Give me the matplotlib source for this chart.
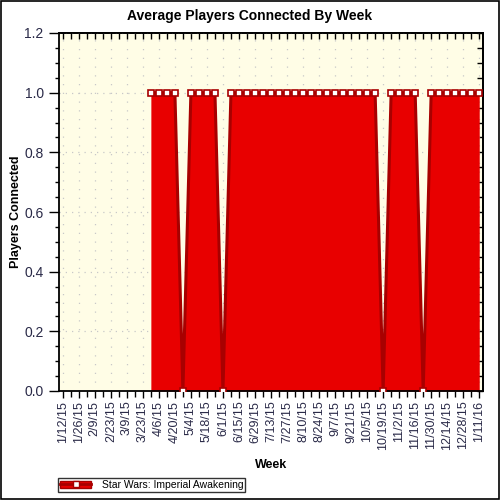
import matplotlib
matplotlib.use("Agg")
import matplotlib.pyplot as plt
import numpy as np
from matplotlib.ticker import MultipleLocator, NullFormatter
from matplotlib.lines import Line2D
from matplotlib.patches import Patch

# Tick labels (every second week)
tick_labels = ["1/12/15", "1/26/15", "2/9/15", "2/23/15", "3/9/15", "3/23/15",
               "4/6/15", "4/20/15", "5/4/15", "5/18/15", "6/1/15", "6/15/15",
               "6/29/15", "7/13/15", "7/27/15", "8/10/15", "8/24/15", "9/7/15",
               "9/21/15", "10/5/15", "10/19/15", "11/2/15", "11/16/15", "11/30/15",
               "12/14/15", "12/28/15", "1/11/16"]

# Weekly data, starting week 3/30/15 (index 11 from 1/12/15)
first_week_index = 11
players = [1, 1, 1, 1, 0,
           1, 1, 1, 1, 0,
           1, 1, 1, 1, 1, 1, 1, 1, 1, 1, 1, 1, 1, 1, 1, 1, 1, 1, 1, 0,
           1, 1, 1, 1, 0,
           1, 1, 1, 1, 1, 1, 1]
series_name = "Star Wars: Imperial Awakening"

x = np.arange(first_week_index, first_week_index + len(players))
y = np.array(players, dtype=float)

fig = plt.figure(figsize=(5, 5), dpi=100)
fig.patch.set_facecolor("white")
ax = fig.add_axes([0.118, 0.218, 0.848, 0.716])
ax.set_facecolor("#fffde6")

fill_color = "#e80000"
line_color = "#a80000"
ax.fill_between(x, y, 0, color=fill_color, linewidth=0, zorder=2)
ax.plot(x, y, color=line_color, linewidth=2.2, zorder=3)
ax.plot(x, y, linestyle="none", marker="s", markersize=4.8,
        markerfacecolor="white", markeredgecolor=line_color,
        markeredgewidth=1.2, zorder=4)

ax.set_xlim(-0.47, 52.47)
ax.set_ylim(0, 1.2)

label_color = "#2a2a48"
ax.set_xticks(np.arange(0, 2 * len(tick_labels), 2))
ax.set_xticklabels(tick_labels, rotation=90, fontsize=9, color=label_color,
                   fontfamily="Liberation Sans")
ax.xaxis.set_minor_locator(MultipleLocator(1))
ax.yaxis.set_major_locator(MultipleLocator(0.2))
ax.yaxis.set_minor_locator(MultipleLocator(0.05))
ax.set_yticklabels([f"{v:.1f}" for v in ax.get_yticks()], fontsize=10,
                   color=label_color, fontfamily="Liberation Sans")

ax.tick_params(axis="y", which="major", direction="out", length=7, width=1, pad=4)
ax.tick_params(axis="y", which="minor", direction="out", length=3, width=1)
ax.tick_params(axis="x", which="major", direction="out", length=5, width=1, pad=2)
ax.tick_params(axis="x", which="minor", direction="out", length=4, width=1)
for s in ax.spines.values():
    s.set_linewidth(1.3)

# inward ticks on top and right
top = ax.secondary_xaxis("top")
top.set_xticks(np.arange(0, 53, 1))
top.xaxis.set_major_formatter(NullFormatter())
top.tick_params(direction="in", length=4, width=1)
right = ax.secondary_yaxis("right")
right.set_yticks(np.arange(0, 1.21, 0.05))
right.yaxis.set_major_formatter(NullFormatter())
right.tick_params(direction="in", length=4, width=1)
for sec in (top, right):
    for s in sec.spines.values():
        s.set_linewidth(1.3)

ax.grid(True, which="major", axis="x", linestyle=(0, (1, 6)), color="#c8c8c8", linewidth=0.9, zorder=0)
ax.grid(True, which="major", axis="y", linestyle=(0, (1, 4)), color="#c8c8c8", linewidth=0.9, zorder=0)
ax.set_axisbelow(True)

fig.suptitle("Average Players Connected By Week", x=0.5, y=0.982, fontsize=10,
             fontweight="bold", fontfamily="Liberation Sans")
ax.set_ylabel("Players Connected", fontsize=9, fontweight="bold",
              fontfamily="Liberation Sans")
ax.yaxis.set_label_coords(-0.087, 0.5)
ax.set_xlabel("Week", fontsize=9, fontweight="bold", fontfamily="Liberation Sans",
              labelpad=7)

handle = (Patch(facecolor=fill_color, edgecolor=line_color),
          Line2D([], [], color=line_color, linewidth=2, marker="s", markersize=5,
                 markerfacecolor="white", markeredgecolor=line_color))
leg = fig.legend([handle], [series_name], loc="lower left",
                 bbox_to_anchor=(0.116, 0.016), frameon=True,
                 fancybox=False, edgecolor="black", handlelength=3.0,
                 borderpad=0.2, handletextpad=1.0, borderaxespad=0,
                 prop={"family": "Liberation Sans", "size": 7.5})
leg.get_frame().set_linewidth(1)

fig.add_artist(plt.Rectangle((0.002, 0.002), 0.996, 0.996, transform=fig.transFigure,
                             fill=False, edgecolor="black", linewidth=1.2))

fig.savefig("out.png", dpi=100)
